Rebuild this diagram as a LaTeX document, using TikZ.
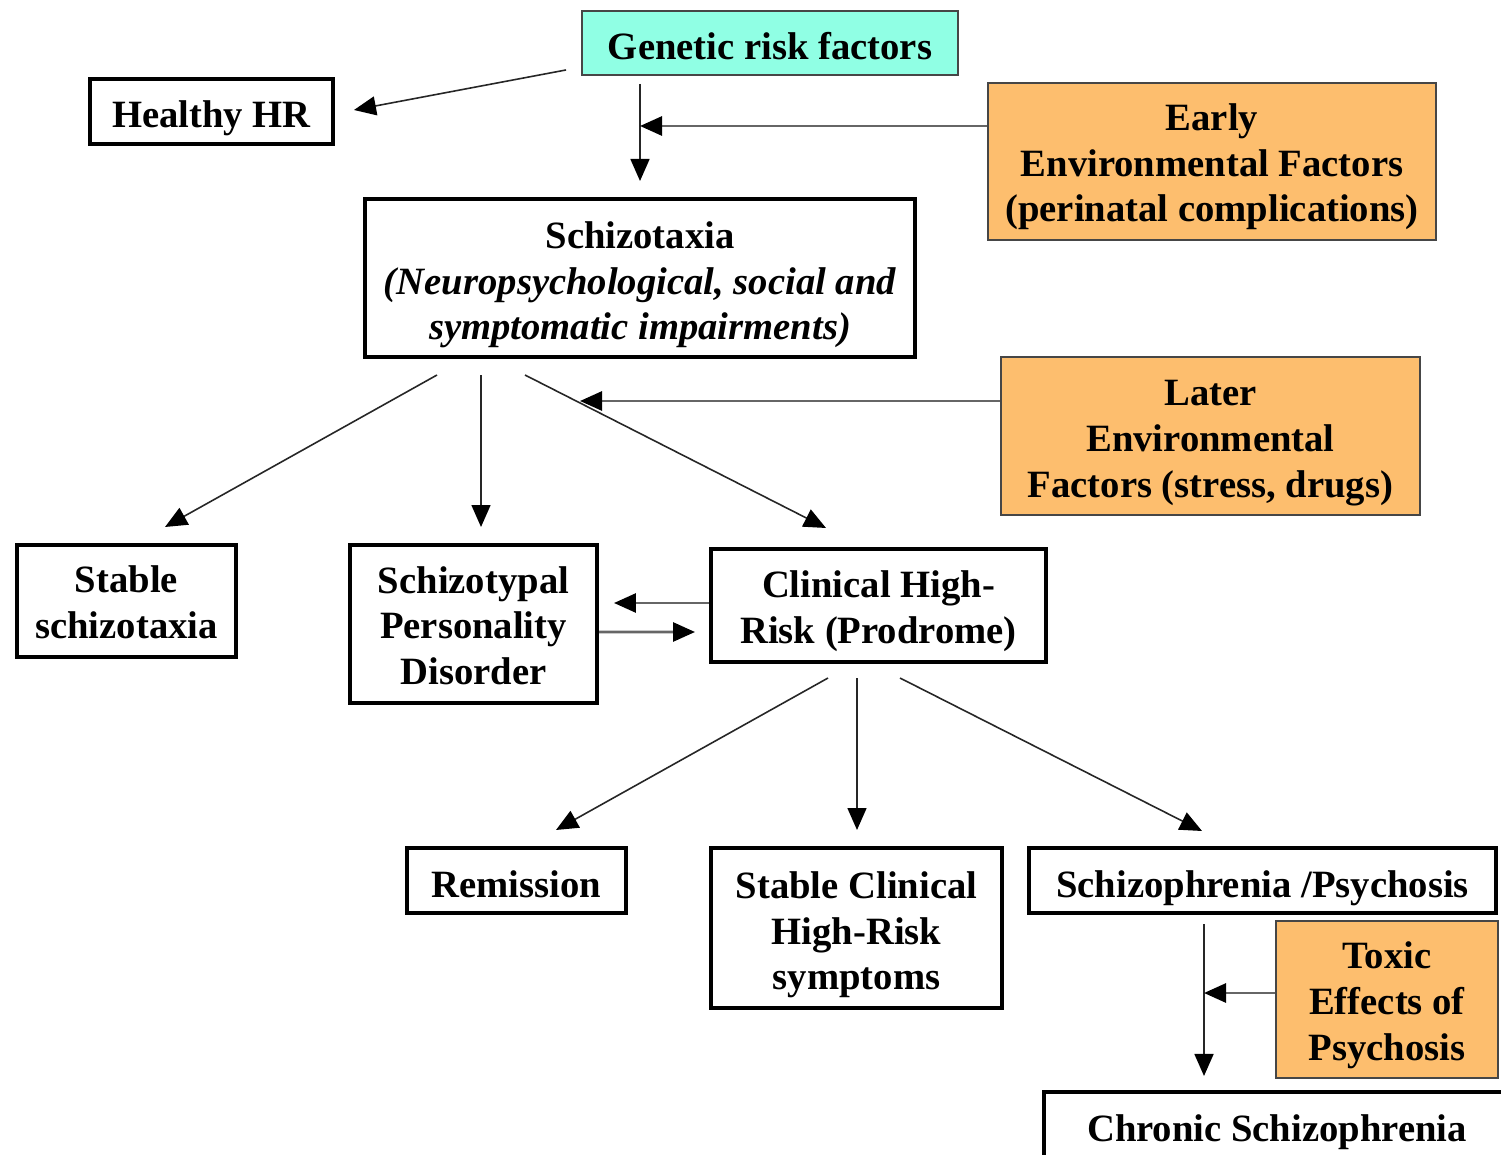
\documentclass[tikz,border=0pt]{standalone}
\usepackage{fontspec}
\setmainfont{Liberation Serif}
\usetikzlibrary{arrows.meta,calc}
\definecolor{aqua}{RGB}{144,255,228}
\definecolor{orng}{RGB}{253,190,110}
\definecolor{frame}{RGB}{70,70,70}
\newcommand\lft[1]{\rule{0pt}{#1}}
\begin{document}
\begin{tikzpicture}[x=0.02cm,y=-0.02cm,
  txt/.style={align=center,font=\fontsize{22}{26}\selectfont\bfseries,inner sep=0pt},
  blk/.style={txt,draw=black,line width=2.3pt},
  col/.style={txt,draw=frame,line width=1.1pt},
  arr/.style={draw=black!85,line width=0.9pt,-{Triangle[length=0.44cm,width=0.38cm,color=black]}},
  garr/.style={draw=black!60,line width=1.6pt,-{Triangle[length=0.44cm,width=0.38cm,color=black]}}]
\useasboundingbox (0,0) rectangle (1501,1155);
\clip (0,0) rectangle (1501,1155);
\fill[white] (0,0) rectangle (1501,1155);
% nodes
\node[col,fill=aqua,minimum width=7.52cm,minimum height=1.28cm] (genetic) at (770,43) {\lft{19pt}Genetic risk factors};
\node[blk,minimum width=4.86cm,minimum height=1.30cm] (healthy) at (211.5,111.5) {\lft{23pt}Healthy HR};
\node[col,fill=orng,minimum width=8.96cm,minimum height=3.14cm] (early) at (1212,161.5) {\lft{21.5pt}Early\\Environmental Factors\\(perinatal complications)};
\node[blk,minimum width=11.0cm,minimum height=3.16cm] (schiz) at (640,278) {\lft{23pt}Schizotaxia\\\itshape(Neuropsychological, social and\\\itshape symptomatic impairments)};
\node[col,fill=orng,minimum width=8.38cm,minimum height=3.16cm] (later) at (1210.5,436) {\lft{22.5pt}Later\\Environmental\\Factors (stress, drugs)};
\node[blk,minimum width=4.38cm,minimum height=2.24cm] (stable) at (126.5,601) {\lft{17pt}Stable\\schizotaxia};
\node[blk,minimum width=4.94cm,minimum height=3.16cm] (stpd) at (473.5,624) {\lft{17pt}Schizotypal\\Personality\\Disorder};
\node[blk,minimum width=6.70cm,minimum height=2.26cm] (chr) at (878.5,605.5) {\lft{22pt}Clinical High-\\Risk (Prodrome)};
\node[blk,minimum width=4.38cm,minimum height=1.30cm] (remission) at (516.5,880.5) {\lft{19.5pt}Remission};
\node[blk,minimum width=5.82cm,minimum height=3.20cm] (stablechr) at (856.5,928) {\lft{23pt}Stable Clinical\\High-Risk\\symptoms};
\node[blk,minimum width=9.34cm,minimum height=1.30cm] (psych) at (1262.5,880.5) {\lft{24pt}Schizophrenia /Psychosis};
\node[col,fill=orng,minimum width=4.44cm,minimum height=3.14cm] (toxic) at (1387,999.5) {\lft{22pt}Toxic\\Effects of\\Psychosis};
\node[blk,minimum width=9.32cm,minimum height=1.56cm] (chronic) at (1277,1131) {\lft{17pt}Chronic Schizophrenia};
% junction coordinates
\coordinate (j1) at (640,126);
\coordinate (j2) at (580,401);
\coordinate (j3) at (1204,993);
% connectors
\draw[arr] ($(genetic.south west)+(-15,-6)$) -- ($(healthy.east)+(19,-1.5)$);
\draw[arr] ($(genetic.south)+(-130,8)$) -- ($(schiz.north)+(0,-16)$);
\draw[garr] ($(early.west)+(0,-35.5)$) -- (j1);
\draw[arr] ($(schiz.south)+(-203,16)$) -- ($(stable.north)+(38.5,-16)$);
\draw[arr] ($(schiz.south)+(-159,16)$) -- ($(stpd.north)+(7.5,-16)$);
\draw[arr] ($(schiz.south)+(-115,16)$) -- ($(chr.north)+(-52.5,-19)$);
\draw[garr] ($(later.west)+(0,-35)$) -- (j2);
\draw[garr] ($(chr.west)+(0,-2.5)$) -- ($(stpd.east)+(15,-21)$);
\draw[garr] ($(stpd.east)+(0,8)$) -- ($(chr.west)+(-14,26.5)$);
\draw[arr] ($(chr.south)+(-50.5,14)$) -- ($(remission.north)+(39.5,-16)$);
\draw[arr] ($(chr.south)+(-21.5,14)$) -- ($(stablechr.north)+(0.5,-16)$);
\draw[arr] ($(chr.south)+(21.5,14)$) -- ($(psych.north)+(-60.5,-15)$);
\draw[arr] ($(psych.south)+(-58.5,9)$) -- ($(chronic.north)+(-73,-14)$);
\draw[garr] ($(toxic.west)+(0,-6.5)$) -- (j3);
\end{tikzpicture}
\end{document}
